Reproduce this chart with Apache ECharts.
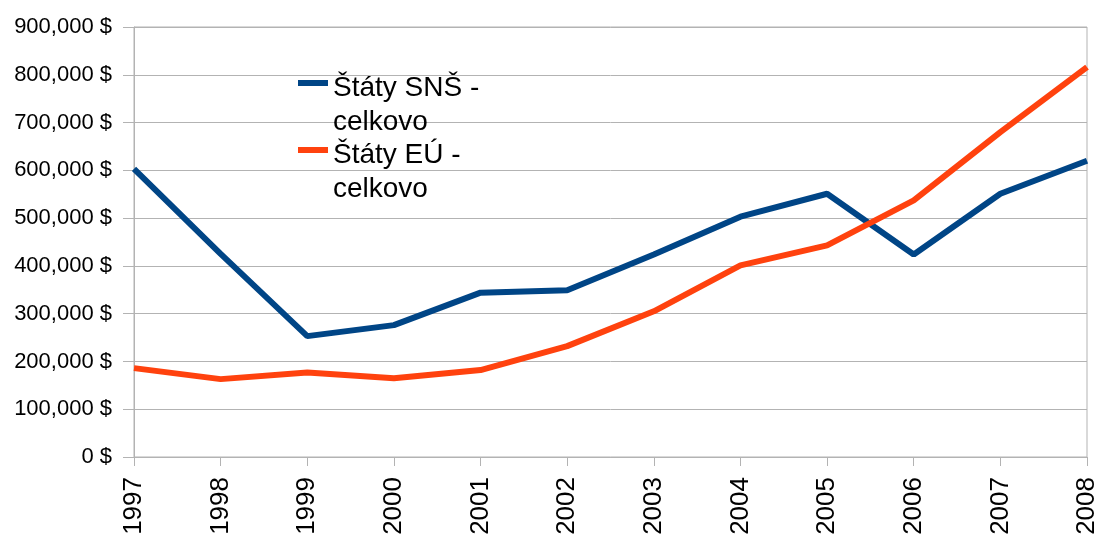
<!DOCTYPE html>
<html><head><meta charset="utf-8">
<script src="https://cdn.jsdelivr.net/npm/echarts@6/dist/echarts.min.js"></script>
<style>html,body{margin:0;padding:0;background:#fff}#c{width:1100px;height:537px}</style>
</head><body><div id="c"></div>
<script>
const years = ['1997','1998','1999','2000','2001','2002','2003','2004','2005','2006','2007','2008'];
const snsValues = [603000, 425000, 253000, 276000, 344000, 349000, 424000, 503000, 551000, 424000, 551000, 620000];
const euValues = [186000, 163000, 177000, 165000, 182000, 232000, 305000, 401000, 443000, 537000, 680000, 816000];
const seriesNames = ['Štáty SNŠ -\ncelkovo', 'Štáty EÚ -\ncelkovo'];
const chart = echarts.init(document.getElementById('c'));
const font = 'Liberation Sans, Arial, sans-serif';
chart.setOption({
  animation: false,
  grid: {left: 134, right: 13, top: 27, bottom: 80, show: true, borderColor: '#b3b3b3', borderWidth: 1, outerBoundsMode: 'none', containLabel: false},
  legend: {
    orient: 'vertical', left: 293, top: 66, itemWidth: 30, itemHeight: 50, itemGap: -1,
    icon: 'path://M0 0H30V6H0Z M0 50H0.01V50.01H0Z',
    textStyle: {fontFamily: font, fontSize: 28, color: '#000', lineHeight: 34},
    data: seriesNames
  },
  xAxis: {
    type: 'category', data: years, boundaryGap: false,
    axisLine: {lineStyle: {color: '#b3b3b3'}},
    axisTick: {show: true, length: 9, lineStyle: {color: '#b3b3b3'}, alignWithLabel: true},
    axisLabel: {rotate: 90, margin: 20, fontFamily: font, fontSize: 26, color: '#000', interval: 0},
    splitLine: {show: false}
  },
  yAxis: {
    type: 'value', min: 0, max: 900000, interval: 100000,
    axisLine: {show: true, lineStyle: {color: '#b3b3b3'}},
    axisTick: {show: true, length: 11, lineStyle: {color: '#b3b3b3'}},
    axisLabel: {margin: 22, fontFamily: font, fontSize: 22, color: '#000',
      formatter: v => v.toLocaleString('en-US') + ' $'},
    splitLine: {lineStyle: {color: '#b3b3b3'}}
  },
  series: [
    {name: seriesNames[0], type: 'line', data: snsValues, symbol: 'none', lineStyle: {width: 6, color: '#004586'}, itemStyle: {color: '#004586'}},
    {name: seriesNames[1], type: 'line', data: euValues, symbol: 'none', lineStyle: {width: 6, color: '#ff420e'}, itemStyle: {color: '#ff420e'}}
  ]
});
</script></body></html>
